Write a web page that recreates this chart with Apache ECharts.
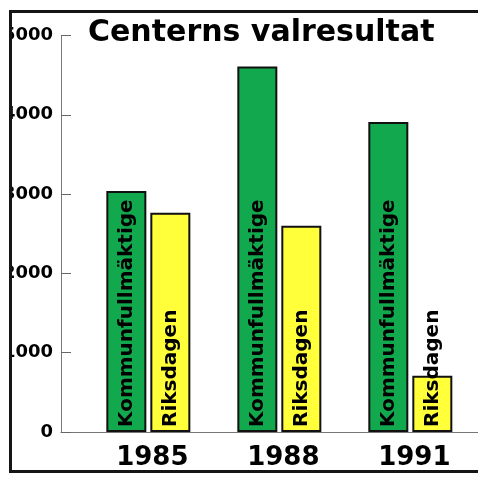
<!DOCTYPE html>
<html>
<head>
<meta charset="utf-8">
<script src="https://cdn.jsdelivr.net/npm/echarts@6/dist/echarts.min.js"></script>
<style>
  html, body { margin: 0; padding: 0; background: #fff; }
  #frame {
    position: absolute; left: 9px; top: 10px;
    width: 520px; height: 457px;
    border: 3px solid #151515;
    overflow: hidden;
  }
  #chart { position: absolute; left: -12px; top: -13px; width: 478px; height: 480px; }
</style>
</head>
<body>
<div id="frame"><div id="chart"></div></div>
<script>
// Centerns valresultat, antal röster (läst ur bilden)
const years = [1985, 1988, 1991]
const kommunfullmaktige = [3040, 4610, 3910]
const riksdagen = [2765, 2600, 710]
const yTicks = [0, 1000, 2000, 3000, 4000, 5000]

const font = 'DejaVu Sans'

const barLabel = (text) => ({
  show: true,
  position: 'insideBottom',
  rotate: 90,
  align: 'left',
  verticalAlign: 'middle',
  distance: 5,
  formatter: text,
  color: '#000',
  fontFamily: font,
  fontWeight: 'bold',
  fontSize: 20
})

const chart = echarts.init(document.getElementById('chart'))
chart.setOption({
  animation: false,
  title: {
    text: 'Centerns valresultat',
    left: 88,
    top: 18,
    padding: 0,
    textStyle: { fontFamily: font, fontWeight: 'bold', fontSize: 30, color: '#000' }
  },
  grid: { left: 61, right: 0, top: 35.5, bottom: 48, containLabel: false, outerBoundsMode: 'none' },
  xAxis: {
    type: 'value',
    min: 1983,
    max: 1992.55,
    interval: 1,
    splitLine: { show: false },
    axisTick: { show: false },
    axisLine: { lineStyle: { color: '#777', width: 1 } },
    axisLabel: {
      margin: 13,
      padding: [0, 0, 0, 8],
      color: '#000',
      fontFamily: font,
      fontWeight: 'bold',
      fontSize: 26,
      showMinLabel: false,
      showMaxLabel: false,
      formatter: (v) => (years.includes(v) ? String(v) : '')
    }
  },
  yAxis: {
    type: 'value',
    min: yTicks[0],
    max: yTicks[yTicks.length - 1],
    interval: 1000,
    splitLine: { show: false },
    axisLine: { show: true, lineStyle: { color: '#777', width: 1 } },
    axisTick: { show: true, inside: true, length: 10, lineStyle: { color: '#666' } },
    axisLabel: {
      margin: 8,
      color: '#000',
      fontFamily: font,
      fontWeight: 'bold',
      fontSize: 18,
      formatter: (v) => String(v)
    }
  },
  series: [
    {
      name: 'Kommunfullmäktige',
      type: 'bar',
      barWidth: 40,
      barGap: '10%',
      data: years.map((y, i) => [y, kommunfullmaktige[i]]),
      itemStyle: { color: '#12a84e', borderColor: '#111', borderWidth: 2 },
      label: barLabel('Kommunfullmäktige')
    },
    {
      name: 'Riksdagen',
      type: 'bar',
      barWidth: 40,
      data: years.map((y, i) => [y, riksdagen[i]]),
      itemStyle: { color: '#ffff3a', borderColor: '#111', borderWidth: 2 },
      label: barLabel('Riksdagen')
    }
  ]
})
</script>
</body>
</html>
